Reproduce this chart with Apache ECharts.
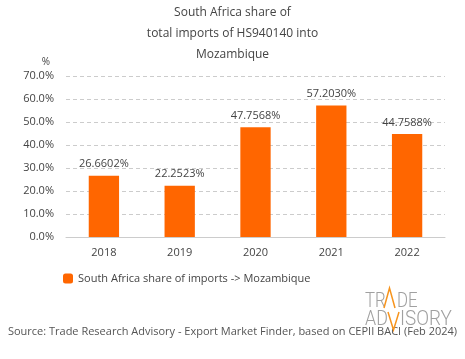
<!DOCTYPE html>
<html><head><meta charset="utf-8">
<script src="https://cdn.jsdelivr.net/npm/echarts@6/dist/echarts.min.js"></script>
<style>html,body{margin:0;padding:0;background:#fff}#c{width:465px;height:359px}</style>
</head><body><div id="c"></div>
<script>
const categories = ['2018','2019','2020','2021','2022'];
const shareValues = [26.6602, 22.2523, 47.7568, 57.2030, 44.7588];
const valueLabels = ['26.6602%','22.2523%','47.7568%','57.2030%','44.7588%'];
const seriesName = 'South Africa share of imports -> Mozambique';
const titleText = 'South Africa share of\ntotal imports of HS940140 into\nMozambique';
const sourceText = 'Source: Trade Research Advisory - Export Market Finder, based on CEPII BACI (Feb 2024)';

const F = 'Open Sans';
const chart = echarts.init(document.getElementById('c'), null, {renderer:'canvas'});
const gray = '#a0a0a0', orange = '#F7941D';
const LF = '300 21px Roboto';
chart.setOption({
  animation:false,
  textStyle:{fontFamily:F},
  title:{text:titleText, left:'center', top:2, padding:0, textStyle:{fontSize:12, fontWeight:'normal', color:'#444', lineHeight:21, fontFamily:F}},
  legend:{left:58, top:268, itemWidth:10, itemHeight:10, itemGap:4, textStyle:{fontSize:11, color:'#444', fontFamily:F}, data:[seriesName]},
  grid:{left:66, right:20, top:76, bottom:122},
  xAxis:{type:'category', data:categories, axisTick:{show:false}, axisLine:{lineStyle:{color:'#ccc'}}, axisLabel:{color:'#444', fontSize:11, margin:10, fontFamily:F}},
  yAxis:{type:'value', min:0, max:70, interval:10, name:'%', nameLocation:'end', nameGap:9, nameTextStyle:{color:'#444', fontSize:10, align:'right', padding:[0,16,0,0]},
    axisLabel:{formatter:v=>v.toFixed(1)+'%', color:'#444', fontSize:11, margin:12, fontFamily:F},
    splitLine:{lineStyle:{type:[4,3], color:'#ccc'}}, axisLine:{show:false}, axisTick:{show:false}},
  series:[{name:seriesName, type:'bar', data:shareValues, barWidth:'40%', itemStyle:{color:'#FF6600'},
    label:{show:true, position:'top', distance:6, color:'#444', fontSize:11, fontFamily:F, formatter:p=>valueLabels[p.dataIndex]}}],
  graphic:[
    {type:'text', left:'center', top:326, style:{text:sourceText, fill:'#555', fontSize:11, fontFamily:F}},
    {type:'text', x:365, y:302, scaleX:0.8, style:{text:'TR', fill:gray, font:LF, verticalAlign:'middle'}},
    {type:'polyline', shape:{points:[[384,308],[389.5,288],[395,308]]}, style:{stroke:orange, lineWidth:1.5, fill:null}},
    {type:'text', x:397, y:302, scaleX:0.8, style:{text:'DE', fill:gray, font:LF, verticalAlign:'middle'}},
    {type:'text', x:365, y:320, scaleX:0.85, style:{text:'AD', fill:gray, font:LF, verticalAlign:'middle'}},
    {type:'polyline', shape:{points:[[388,312],[393.5,330],[399,312]]}, style:{stroke:orange, lineWidth:1.5, fill:null}},
    {type:'text', x:400, y:320, scaleX:0.9, style:{text:'ISORY', fill:gray, font:LF, verticalAlign:'middle'}}
  ]
});
</script></body></html>
